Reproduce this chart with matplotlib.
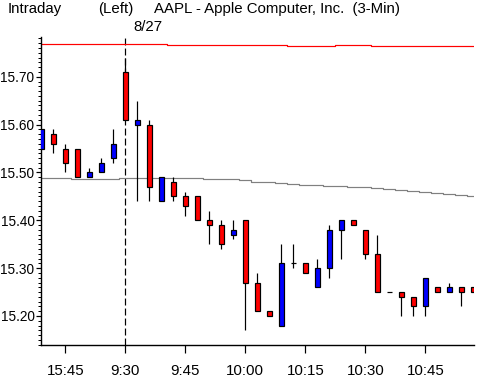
import matplotlib
matplotlib.use("Agg")
import matplotlib.pyplot as plt
import numpy as np

plt.rcParams['font.family'] = ['Liberation Sans', 'DejaVu Sans']
plt.rcParams['lines.scale_dashes'] = False

# 3-minute bars, 15:39 (previous day) .. 10:48 on 8/27
opens = [15.55, 15.58, 15.55, 15.55, 15.49, 15.50, 15.53, 15.71, 15.60, 15.60,
         15.44, 15.48, 15.45, 15.45, 15.40, 15.39, 15.37, 15.40, 15.27, 15.21,
         15.18, 15.31, 15.31, 15.26, 15.30, 15.38, 15.40, 15.38, 15.33, 15.25,
         15.25, 15.24, 15.22, 15.26, 15.25, 15.26, 15.26]
highs = [15.59, 15.59, 15.56, 15.55, 15.51, 15.53, 15.59, 15.74, 15.65, 15.61,
         15.49, 15.49, 15.46, 15.45, 15.42, 15.40, 15.40, 15.40, 15.29, 15.21,
         15.35, 15.35, 15.31, 15.32, 15.39, 15.40, 15.40, 15.38, 15.37, 15.25,
         15.25, 15.24, 15.28, 15.26, 15.27, 15.26, 15.26]
lows = [15.55, 15.54, 15.50, 15.49, 15.49, 15.50, 15.52, 15.61, 15.44, 15.44,
        15.44, 15.44, 15.41, 15.40, 15.35, 15.34, 15.36, 15.17, 15.21, 15.20,
        15.18, 15.30, 15.29, 15.26, 15.28, 15.32, 15.39, 15.32, 15.25, 15.25,
        15.20, 15.20, 15.20, 15.25, 15.25, 15.22, 15.25]
closes = [15.59, 15.56, 15.52, 15.49, 15.50, 15.52, 15.56, 15.61, 15.61, 15.47,
          15.49, 15.45, 15.43, 15.40, 15.39, 15.35, 15.38, 15.27, 15.21, 15.20,
          15.31, 15.31, 15.29, 15.30, 15.38, 15.40, 15.39, 15.33, 15.25, 15.25,
          15.24, 15.22, 15.28, 15.25, 15.26, 15.25, 15.25]

# moving average (gray) and upper line (red)
avg_line = [15.489, 15.489, 15.489, 15.486, 15.486, 15.486, 15.486, 15.488, 15.488, 15.488,
            15.488, 15.488, 15.488, 15.488, 15.486, 15.486, 15.486, 15.484, 15.481, 15.479,
            15.477, 15.475, 15.473, 15.473, 15.471, 15.471, 15.469, 15.469, 15.467, 15.465,
            15.463, 15.461, 15.459, 15.456, 15.454, 15.452, 15.450]
upper_line = [15.768, 15.768, 15.768, 15.768, 15.768, 15.768, 15.768, 15.768, 15.768, 15.768,
              15.768, 15.766, 15.766, 15.766, 15.766, 15.766, 15.766, 15.766, 15.766, 15.766,
              15.766, 15.764, 15.764, 15.764, 15.764, 15.766, 15.766, 15.766, 15.764, 15.764,
              15.764, 15.764, 15.764, 15.764, 15.764, 15.764, 15.764]

tick_bars = [2, 7, 12, 17, 22, 27, 32]
tick_labels = ["15:45", "9:30", "9:45", "10:00", "10:15", "10:30", "10:45"]
day_break = 7
price_ticks = [15.20, 15.30, 15.40, 15.50, 15.60, 15.70]

px = 0.72  # one pixel in points
fs = 10.8

fig = plt.figure(figsize=(4.81, 3.82), dpi=100)
ax = fig.add_axes([40.5 / 481, 37 / 382, (474 - 40.5) / 481, (345 - 37) / 382])

x = np.arange(len(opens))
o = np.array(opens)
c = np.array(closes)
colors = ['#ff0000' if cc < oo else '#0000ff' for oo, cc in zip(o, c)]

ax.plot(x, upper_line, color='#ff0000', lw=1.2 * px, drawstyle='steps-mid', zorder=1)
ax.plot(x, avg_line, color='#808080', lw=1.2 * px, drawstyle='steps-mid', zorder=1)

ax.vlines(x, lows, highs, color='black', lw=1.2 * px, zorder=2)
ax.bar(x, np.abs(c - o), bottom=np.minimum(o, c), width=0.4, color=colors,
       edgecolor='black', linewidth=1.2 * px, zorder=3)

ax.axvline(day_break, color='black', lw=1.2 * px, dashes=(5, 2.2), zorder=0)

ax.set_xlim(-0.07, 36.06)
ax.set_ylim(15.1394, 15.783)

ax.spines['top'].set_visible(False)
ax.spines['right'].set_visible(False)
for s in ['left', 'bottom']:
    ax.spines[s].set_linewidth(1.4 * px)

ax.set_xticks(tick_bars)
ax.set_xticklabels(tick_labels)
ax.set_yticks(price_ticks)
ax.set_yticklabels(["%.2f" % p for p in price_ticks])
ax.set_yticks(np.arange(15.14, 15.785, 0.01), minor=True)

ax.tick_params(axis='x', direction='out', length=6, width=1.2 * px, pad=8, labelsize=fs)
ax.tick_params(axis='y', which='major', direction='out', length=3.8, width=1.2 * px,
               pad=0.6, labelsize=9.8)
ax.tick_params(axis='y', which='minor', direction='out', length=2.2, width=1.0 * px)

def ftext(xp, yp, s):
    fig.text(xp / 481, 1 - yp / 382, s, ha='left', va='center', fontsize=fs)

ftext(8, 9.5, "Intraday")
ftext(98, 9.5, "(Left)")
ftext(154, 9.5, "AAPL - Apple Computer, Inc.  (3-Min)")
ftext(133, 27, "8/27")

fig.savefig("out.png", dpi=100)
